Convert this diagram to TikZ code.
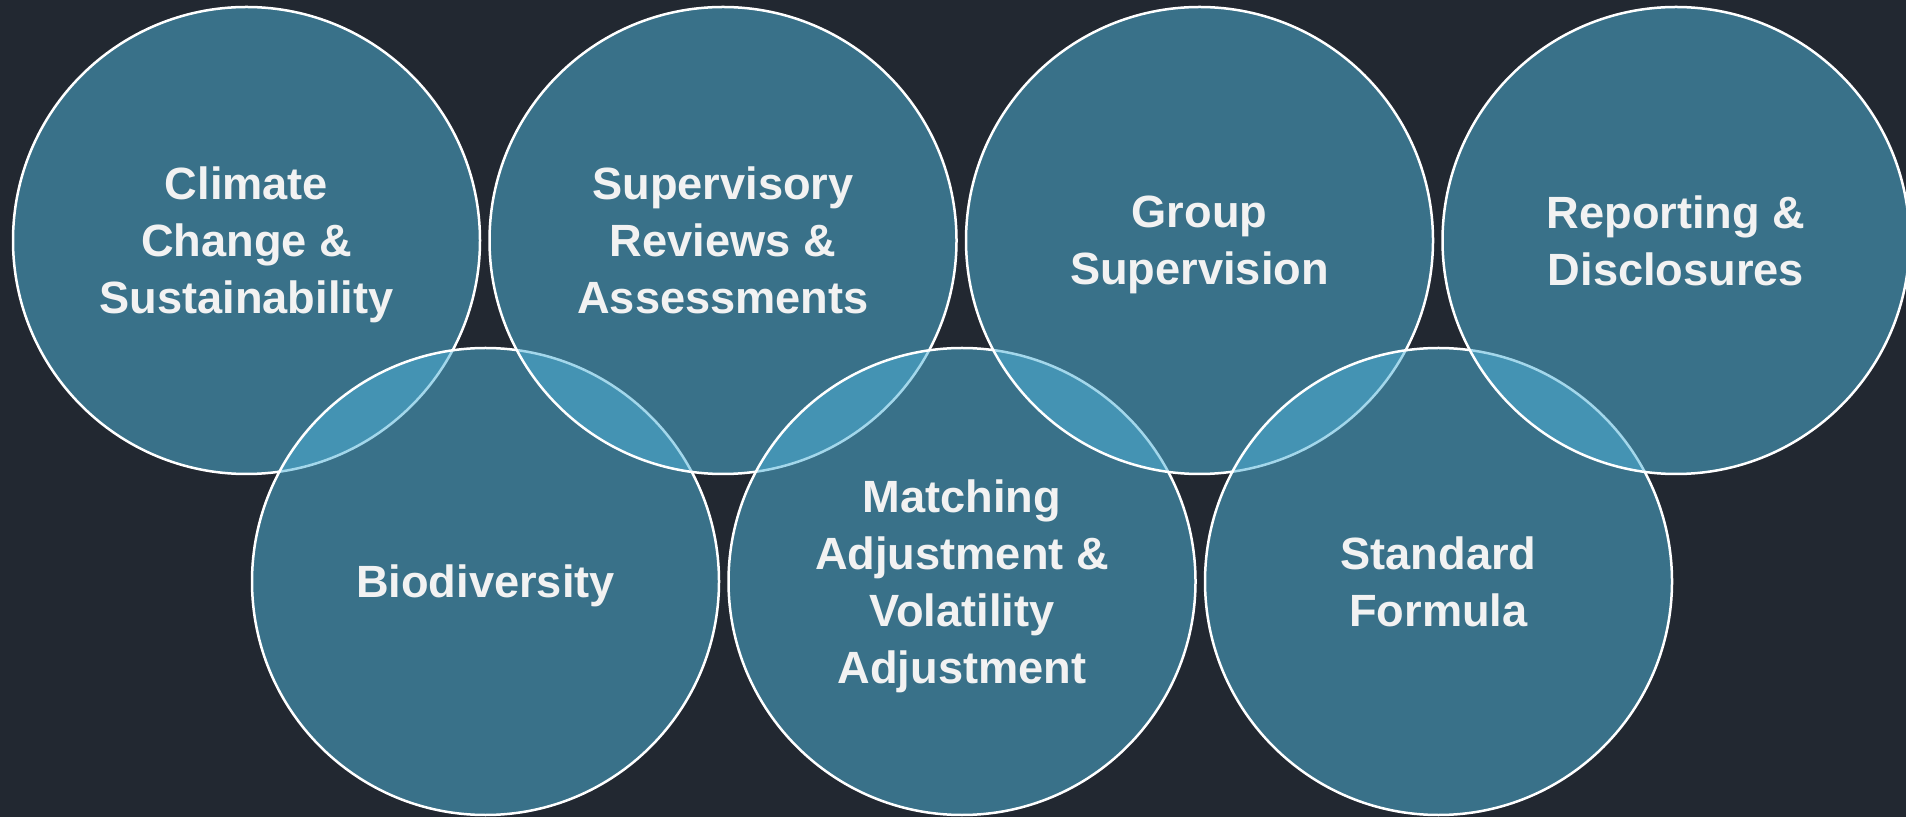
\documentclass[tikz,border=0pt]{standalone}
\usepackage{fontspec}
\setmainfont{Liberation Sans}
\definecolor{slate}{HTML}{222831}
\definecolor{teal}{HTML}{50B4DA}
\definecolor{label}{HTML}{F2F2F2}
\begin{document}
	\begin{tikzpicture}[
			x=0.5pt, y=-0.5pt,
			topic/.style={circle, draw=white, line width=1.25pt, fill=teal,
					fill opacity=0.52, draw opacity=1, text opacity=1,
					minimum size=233.5pt, inner sep=0pt, text depth=0pt,
					align=center, text=label,
					font=\bfseries\fontsize{22.6}{28.5}\selectfont}
		]
		\fill[slate] (0,0) rectangle (1906,817);
		\useasboundingbox (0,0) rectangle (1906,817);
		% top and bottom rows drawn in turn, so each lens shows the later rim
		\node[topic] (climate) at (246.5,240.5) {Climate\\Change \&\\Sustainability};
		\node[topic] (bio) at (485.5,581.5) {Biodiversity};
		\node[topic] (review) at (723,240.5) {Supervisory\\Reviews \&\\Assessments};
		\node[topic] (matching) at (962,581.5) {Matching\\Adjustment \&\\Volatility\\Adjustment};
		\node[topic] (group) at (1199.5,240.5) {Group\\Supervision};
		\node[topic] (formula) at (1438.5,581.5) {Standard\\Formula};
		\node[topic] (reporting) at (1676,240.5) {Reporting \&\\Disclosures};
	\end{tikzpicture}
\end{document}
